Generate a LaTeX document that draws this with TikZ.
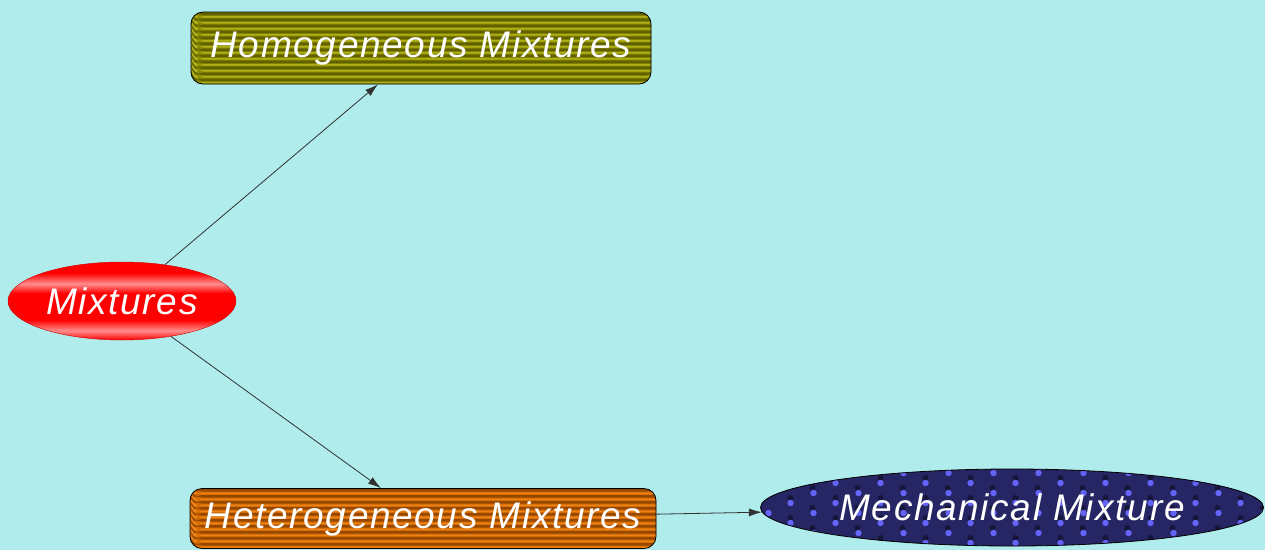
\documentclass[tikz,border=0pt]{standalone}
\usepackage{fontspec}
\usetikzlibrary{shapes.geometric,arrows.meta}
\newfontfamily\labfont{Liberation Sans}[LetterSpace=4.5]

\definecolor{bg}{RGB}{176,236,236}
\definecolor{olivebase}{RGB}{134,134,0}
\definecolor{olivedark}{RGB}{96,96,0}
\definecolor{olivelight}{RGB}{176,176,24}
\definecolor{orangebase}{RGB}{210,106,0}
\definecolor{orangedark}{RGB}{150,72,0}
\definecolor{orangelight}{RGB}{236,130,24}
\definecolor{navybase}{RGB}{38,38,100}
\definecolor{navydot}{RGB}{100,100,250}
\definecolor{navydark}{RGB}{22,22,58}
\definecolor{pinkband}{RGB}{255,140,140}
\definecolor{linkgray}{RGB}{50,50,50}

% red ellipse with two light horizontal bands
\pgfdeclareverticalshading{redband}{100bp}{%
  color(0bp)=(red); color(25bp)=(red); color(31bp)=(pinkband);
  color(38bp)=(red); color(55bp)=(red); color(61bp)=(pinkband);
  color(68bp)=(red); color(100bp)=(red)}

\tikzset{
  label text/.style={text=white, font=\labfont\itshape\fontsize{37}{40}\selectfont},
  stripebox/.style n args={3}{
    draw=black, line width=0.8pt, rounded corners=12pt, fill=#1,
    minimum height=72pt, inner sep=0pt, label text,
    path picture={
      \foreach \k in {0,...,13}{
        \fill[#2] ([shift={(0,\k*6+0.5)}]path picture bounding box.north west) rectangle ++(700,2.5);
        \fill[#3] ([shift={(0,\k*6+4)}]path picture bounding box.north west) rectangle ++(700,1.5);
      }
    }},
  redoval/.style={ellipse, draw=red!80!black, line width=0.4pt, shading=redband,
    minimum width=228pt, minimum height=78pt, inner sep=0pt, label text},
  dotoval/.style={ellipse, draw=black, line width=0.8pt, fill=navybase,
    minimum width=503pt, minimum height=77pt, inner sep=0pt, label text,
    path picture={
      \foreach \r in {0,...,8}{
        \foreach \c in {0,...,12}{
          \pgfmathsetmacro{\off}{mod(\r,2)*22}
          \fill[navydot] ([shift={(\c*45+\off+8,\r*10+4)}]path picture bounding box.north west) circle (3.2);
          \fill[navydark] ([shift={(\c*45+\off+30,\r*10+9)}]path picture bounding box.north west) circle (3);
        }
      }
    }},
  link/.style={draw=linkgray, line width=0.8pt, -{Latex[length=13pt,width=8pt]}}
}

\begin{document}
\begin{tikzpicture}[x=1pt,y=-1pt]
  \fill[bg] (0,0) rectangle (1265,550);
  \useasboundingbox (0,0) rectangle (1265,550);

  \node[stripebox={olivebase}{olivedark}{olivelight}, minimum width=460pt] (homo) at (421,48) {Homogeneous Mixtures};
  \node[stripebox={orangebase}{orangedark}{orangelight}, minimum width=466pt, minimum height=60pt] (hetero) at (423,518.5) {Heterogeneous Mixtures};
  \node[redoval] (mix) at (122,301) {Mixtures};
  \node[dotoval] (mech) at (1012,507.5) {Mechanical Mixture};

  \draw[link] (mix) -- (homo);
  \draw[link] (mix) -- (hetero);
  \draw[link] (hetero) -- (mech);
\end{tikzpicture}
\end{document}
